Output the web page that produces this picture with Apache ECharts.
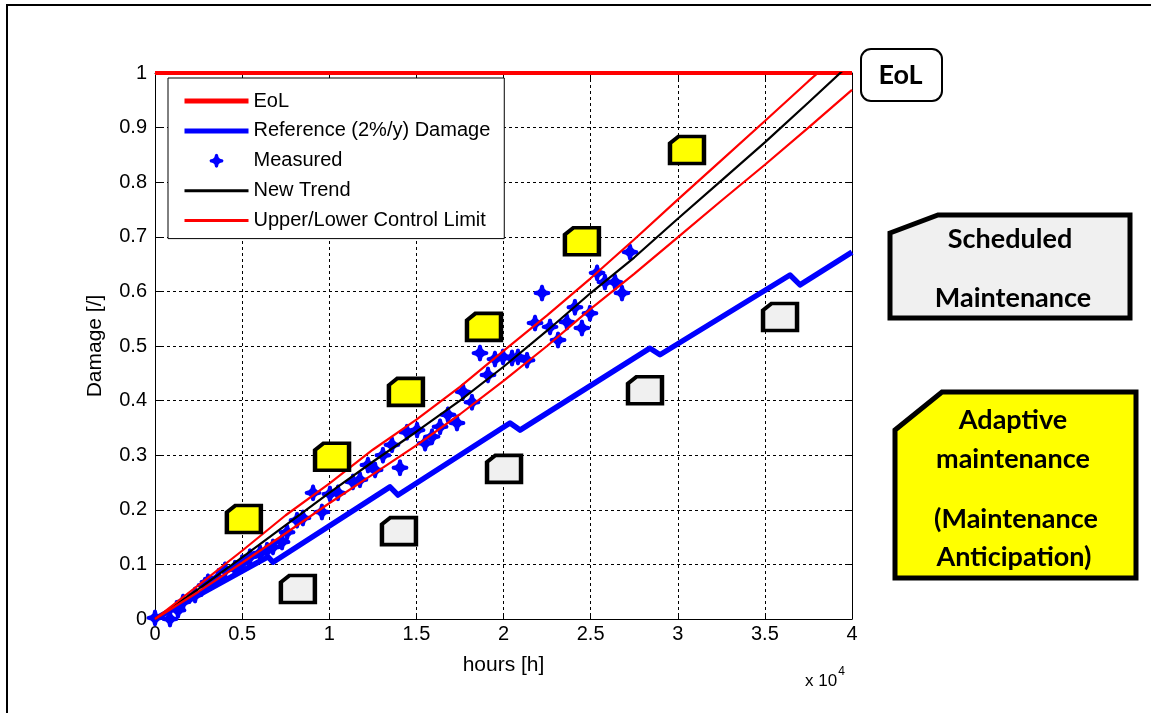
<!DOCTYPE html>
<html><head><meta charset="utf-8">
<script src="https://cdn.jsdelivr.net/npm/echarts@6/dist/echarts.min.js"></script>
<style>html,body{margin:0;padding:0;background:#fff}#c{width:1151px;height:713px}</style>
</head><body><div id="c"></div>
<script>
// ---- data ----
const xTickValues = [0, 5000, 10000, 15000, 20000, 25000, 30000, 35000, 40000];
const yTickValues = [0, 0.1, 0.2, 0.3, 0.4, 0.5, 0.6, 0.7, 0.8, 0.9, 1];

const eolHours = [0, 40000];
const eolDamage = [1, 1];

const refHours  = [0, 6485, 6770, 13486, 13946, 20373, 20947, 28407, 28981, 36442, 37016, 40000];
const refDamage = [0, 0.114, 0.104, 0.242, 0.227, 0.359, 0.346, 0.496, 0.484, 0.630, 0.612, 0.672];

const trendHours  = [0, 2500, 5000, 7500, 10000, 12500, 15000, 17500, 20000, 22500, 25000, 27500, 30000, 32500, 35000, 37500, 40000];
const trendDamage = [0, 0.055, 0.113, 0.172, 0.231, 0.288, 0.343, 0.400, 0.462, 0.528, 0.597, 0.662, 0.733, 0.803, 0.873, 0.946, 1.020];
const upperDamage = [0, 0.062, 0.125, 0.190, 0.248, 0.310, 0.365, 0.425, 0.491, 0.556, 0.624, 0.695, 0.768, 0.840, 0.912, 0.985, 1.055];
const lowerDamage = [0, 0.050, 0.103, 0.157, 0.212, 0.265, 0.318, 0.375, 0.436, 0.500, 0.568, 0.632, 0.699, 0.766, 0.832, 0.900, 0.969];

const measuredHours  = [0, 860, 1320, 1610, 2300, 2870, 3040, 3620, 4020, 4590, 5000, 5450, 6030, 6430, 6770, 7290, 7580, 8150, 8490, 9070, 9580, 10040, 10500, 11360, 11760, 12220, 12630, 13080, 13600, 14060, 14460, 15040, 15500, 15900, 16360, 16810, 17330, 17680, 18190, 18650, 19110, 19510, 19970, 20490, 20830, 21350, 21810, 22210, 22670, 23130, 23640, 24100, 24500, 24960, 25370, 25820, 26400, 26800, 27260];
const measuredDamage = [0.002, 0, 0.016, 0.031, 0.044, 0.062, 0.068, 0.075, 0.090, 0.093, 0.103, 0.114, 0.121, 0.126, 0.132, 0.141, 0.159, 0.181, 0.185, 0.231, 0.196, 0.229, 0.231, 0.251, 0.255, 0.282, 0.273, 0.300, 0.319, 0.277, 0.342, 0.346, 0.322, 0.334, 0.352, 0.374, 0.359, 0.416, 0.397, 0.487, 0.447, 0.476, 0.480, 0.478, 0.480, 0.474, 0.542, 0.597, 0.535, 0.511, 0.544, 0.571, 0.533, 0.560, 0.634, 0.617, 0.617, 0.597, 0.672];

const adaptiveHours  = [5100, 10160, 14400, 18880, 24500, 30530];
const adaptiveDamage = [0.183, 0.297, 0.416, 0.535, 0.692, 0.859];
const scheduledHours  = [8200, 14000, 20030, 28120, 35870];
const scheduledDamage = [0.055, 0.161, 0.275, 0.419, 0.553];

const legendNames = ['EoL', 'Reference (2%/y) Damage', 'Measured', 'New Trend', 'Upper/Lower Control Limit'];
const xLabel = 'hours [h]';
const yLabel = 'Damage [/]';

// ---- build ----
const zip = (a, b) => a.map((v, i) => [v, b[i]]);
const FONT = '"Liberation Sans", Arial, sans-serif';
const BOXFONT = 'Lato, "Open Sans", sans-serif';
const starPath = 'path://M0,-10 L2,-9 L3,-5 L5,-3 L9,-2 L10,0 L9,2 L5,3 L3,5 L2,9 L0,10 L-2,9 L-3,5 L-5,3 L-9,2 L-10,0 L-9,-2 L-5,-3 L-3,-5 L-2,-9 Z';
const boxPath = 'path://M9,0 L36,0 L36,28 L0,28 L0,7 Z';
const noSym = {opacity: 0, borderWidth: 0};
const boxText = (x, y, t) => ({type: 'text', style: {x: x, y: y, text: t, fontFamily: BOXFONT, fontWeight: 'bold', fontSize: 27, fill: '#000', align: 'center', verticalAlign: 'middle'}});

const chart = echarts.init(document.getElementById('c'), null, {renderer: 'canvas'});
const option = {
  animation: false,
  backgroundColor: '#fff',
  textStyle: {fontFamily: FONT},
  grid: {left: 155, right: 299, top: 73, bottom: 94},
  legend: {
    orient: 'vertical', left: 168, top: 78,
    backgroundColor: '#fff', borderColor: '#000', borderWidth: 1, borderRadius: 0,
    padding: [13, 14, 8, 14],
    itemWidth: 64, itemHeight: 14, itemGap: 9.9,
    textStyle: {fontFamily: FONT, fontSize: 20, color: '#000'},
    data: [
      {name: legendNames[0], lineStyle: {width: 5}, itemStyle: noSym},
      {name: legendNames[1], lineStyle: {width: 5}, itemStyle: noSym},
      {name: legendNames[2]},
      {name: legendNames[3], lineStyle: {width: 3}, itemStyle: noSym},
      {name: legendNames[4], lineStyle: {width: 3}, itemStyle: noSym}
    ]
  },
  xAxis: [{
    type: 'value', min: 0, max: 40000, interval: 5000,
    name: xLabel, nameLocation: 'middle', nameGap: 36,
    nameTextStyle: {fontFamily: FONT, fontSize: 21, color: '#000'},
    axisLine: {show: true, lineStyle: {color: '#000', width: 1}},
    axisTick: {inside: true, length: 6, lineStyle: {color: '#000'}},
    axisLabel: {fontFamily: FONT, fontSize: 20, color: '#000', margin: 5,
      formatter: v => String(v / 10000)},
    splitLine: {show: true, lineStyle: {color: '#000', type: [3, 3], width: 1}}
  }, {
    type: 'value', position: 'top', min: 0, max: 40000, interval: 5000,
    axisLine: {show: true, onZero: false, lineStyle: {color: '#000', width: 1}},
    axisTick: {inside: true, length: 6, lineStyle: {color: '#000'}},
    axisLabel: {show: false}, splitLine: {show: false}
  }],
  yAxis: [{
    type: 'value', min: 0, max: 1, interval: 0.1,
    name: yLabel, nameLocation: 'middle', nameGap: 49, nameRotate: 90,
    nameTextStyle: {fontFamily: FONT, fontSize: 21, color: '#000'},
    axisLine: {show: true, lineStyle: {color: '#000', width: 1}},
    axisTick: {inside: true, length: 6, lineStyle: {color: '#000'}},
    axisLabel: {fontFamily: FONT, fontSize: 20, color: '#000', margin: 8},
    splitLine: {show: true, lineStyle: {color: '#000', type: [3, 3], width: 1}}
  }, {
    type: 'value', position: 'right', min: 0, max: 1, interval: 0.1,
    axisLine: {show: true, onZero: false, lineStyle: {color: '#000', width: 1}},
    axisTick: {inside: true, length: 6, lineStyle: {color: '#000'}},
    axisLabel: {show: false}, splitLine: {show: false}
  }],
  series: [
    {name: legendNames[0], type: 'line', data: zip(eolHours, eolDamage), symbol: 'none',
     lineStyle: {color: '#ff0000', width: 4}, itemStyle: {color: '#ff0000'}, z: 3},
    {name: legendNames[1], type: 'line', data: zip(refHours, refDamage), symbol: 'none',
     lineStyle: {color: '#0000ff', width: 5.5, join: 'round'}, itemStyle: {color: '#0000ff'}, z: 3},
    {name: legendNames[2], type: 'scatter', data: zip(measuredHours, measuredDamage),
     symbol: starPath, symbolSize: 17, itemStyle: {color: '#0000ff', opacity: 1}, z: 4},
    {name: legendNames[3], type: 'line', data: zip(trendHours, trendDamage), symbol: 'none',
     lineStyle: {color: '#000', width: 2.2}, itemStyle: {color: '#000'}, z: 5},
    {name: legendNames[4], type: 'line', data: zip(trendHours, upperDamage), symbol: 'none',
     lineStyle: {color: '#ff0000', width: 2.2}, itemStyle: {color: '#ff0000'}, z: 5},
    {name: legendNames[4], type: 'line', data: zip(trendHours, lowerDamage), symbol: 'none',
     lineStyle: {color: '#ff0000', width: 2.2}, itemStyle: {color: '#ff0000'}, z: 5},
    {name: 'adaptive', type: 'scatter', data: zip(adaptiveHours, adaptiveDamage),
     symbol: boxPath, symbolSize: [34, 27], symbolKeepAspect: false,
     itemStyle: {color: '#ffff00', borderColor: '#000', borderWidth: 4, opacity: 1}, z: 6},
    {name: 'scheduled', type: 'scatter', data: zip(scheduledHours, scheduledDamage),
     symbol: boxPath, symbolSize: [34, 27], symbolKeepAspect: false,
     itemStyle: {color: '#f0f0f0', borderColor: '#000', borderWidth: 4, opacity: 1}, z: 6}
  ],
  graphic: [
    {type: 'rect', shape: {x: 7, y: 5, width: 1170, height: 730}, style: {fill: 'none', stroke: '#000', lineWidth: 2}, z: 0, silent: true},
    {type: 'text', left: 805, top: 666, style: {
      text: '{a|x 10}{b|4}', rich: {
        a: {fontFamily: FONT, fontSize: 17, fill: '#000', verticalAlign: 'bottom'},
        b: {fontFamily: FONT, fontSize: 12, fill: '#000', verticalAlign: 'top', padding: [0, 0, 12, 1]}
      }}},
    {type: 'rect', shape: {x: 861, y: 49, width: 81, height: 52, r: 10}, style: {fill: '#fff', stroke: '#000', lineWidth: 2}},
    boxText(900.5, 75, 'EoL'),
    {type: 'polygon', shape: {points: [[890, 233], [938, 215], [1130, 215], [1130, 318], [890, 318]]}, style: {fill: '#f0f0f0', stroke: '#000', lineWidth: 5}},
    boxText(1010, 239, 'Scheduled'),
    boxText(1013, 298, 'Maintenance'),
    {type: 'polygon', shape: {points: [[895, 430], [942, 392], [1136, 392], [1136, 578], [895, 578]]}, style: {fill: '#ffff00', stroke: '#000', lineWidth: 5}},
    boxText(1013, 420, 'Adaptive'),
    boxText(1013, 459, 'maintenance'),
    boxText(1016, 519, '(Maintenance'),
    boxText(1014, 557, 'Anticipation)')
  ]
};
chart.setOption(option);
</script>
</body></html>
